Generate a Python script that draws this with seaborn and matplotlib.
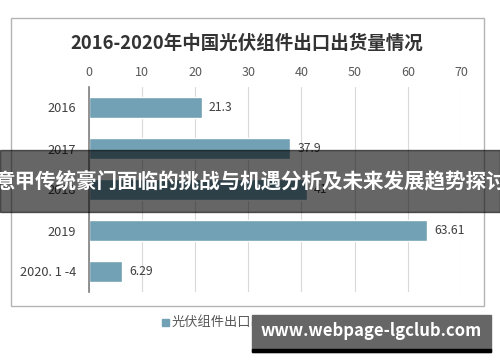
import matplotlib
matplotlib.use('Agg')
import matplotlib.pyplot as plt
import seaborn as sns
import pandas as pd
from matplotlib.patches import Rectangle

# Datos
categorias = ['2016', '2017', '2018', '2019', '2020. 1 -4']
valores = [21.3, 37.9, 41.0, 63.61, 6.29]
etiquetas = ['21.3', '37.9', '41', '63.61', '6.29']
titulo = '2016-2020年中国光伏组件出口出货量情况'
leyenda = '光伏组件出口出货量：GW'
banner = '意甲传统豪门面临的挑战与机遇分析及未来发展趋势探讨'
marca = 'www.webpage-lgclub.com'

sns.set_style('white')
plt.rcParams['font.family'] = ['Noto Sans CJK SC', 'DejaVu Sans']

df = pd.DataFrame({'anio': categorias, 'valor': valores})

W, H = 500, 362
fig = plt.figure(figsize=(5, 3.62), dpi=100)

# borde del grafico
fig.patches.append(Rectangle((11 / W, 1 - 306 / H), 473 / W, 288 / H,
                             transform=fig.transFigure, fill=False,
                             edgecolor='#b4b4b4', linewidth=1))

ax = fig.add_axes([88.7 / W, 1 - 292 / H, (461 - 88.7) / W, 205 / H])
color_barra = '#72a0b4'
sns.barplot(data=df, y='anio', x='valor', orient='h', color=color_barra,
            width=0.49, ax=ax, saturation=1)

ax.set_xlim(0, 70)
ax.set_xticks(range(0, 71, 10))
ax.xaxis.tick_top()
ax.tick_params(axis='x', length=0, labelsize=9, labelcolor='#595959', pad=6)
ax.tick_params(axis='y', length=0, labelsize=9.2, labelcolor='#404040', pad=9)
ax.set_xlabel('')
ax.set_ylabel('')
ax.grid(axis='x', color='#d9d9d9', linewidth=0.8)
ax.set_axisbelow(True)
for lado in ['top', 'right', 'bottom']:
    ax.spines[lado].set_visible(False)
ax.spines['left'].set_color('#7f7f7f')
ax.spines['left'].set_linewidth(1.2)

for i, (v, t) in enumerate(zip(valores, etiquetas)):
    ax.annotate(t, (v, i), xytext=(5, 0), textcoords='offset points',
                va='center', ha='left', fontsize=8.8, color='#404040')

fig.text(247 / W, 1 - 43 / H, titulo, ha='center', va='center',
         fontsize=13.3, fontweight='bold', color='#333333')

# leyenda
fig.patches.append(Rectangle((162 / W, 1 - 326 / H), 7 / W, 7 / H,
                             transform=fig.transFigure, color=color_barra))
fig.text(172 / W, 1 - 322 / H, leyenda, ha='left', va='center',
         fontsize=9.5, color='#595959')

# banda superpuesta
fig.patches.append(Rectangle((0, 1 - 212 / H), 1, 62 / H,
                             transform=fig.transFigure, color='black',
                             alpha=0.6, zorder=10))
fig.text(0.5, 1 - 181 / H, banner, ha='center', va='center', fontsize=14.8,
         fontweight='bold', color='white', zorder=11)

# marca de agua
fig.patches.append(Rectangle((252 / W, 1 - 352 / H), 239 / W, 37 / H,
                             transform=fig.transFigure, color='#666666',
                             zorder=10))
fig.patches.append(Rectangle((252 / W, 1 - 352 / H), 239 / W, 3 / H,
                             transform=fig.transFigure, color='black',
                             zorder=10))
fig.text(371 / W, 1 - 331 / H, marca, ha='center', va='center', fontsize=12,
         fontweight='bold', color='white', zorder=11)

fig.savefig('out.png', dpi=100)
